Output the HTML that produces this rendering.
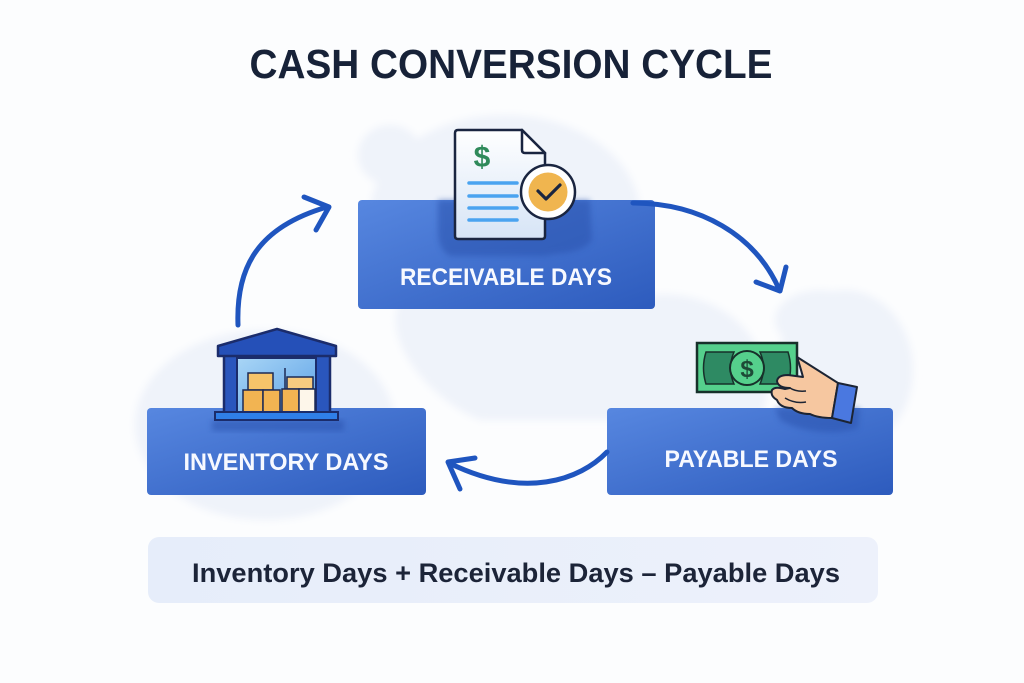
<!DOCTYPE html>
<html><head><meta charset="utf-8"><style>
html,body{margin:0;padding:0;background:#fcfdfe;}
svg{display:block;}
</style></head><body>
<svg width="1024" height="683" viewBox="0 0 1024 683" xmlns="http://www.w3.org/2000/svg">
<defs>
<linearGradient id="bx" x1="0" y1="0" x2="1" y2="1">
<stop offset="0" stop-color="#5787e0"/><stop offset="1" stop-color="#2d5bbd"/>
</linearGradient>
<linearGradient id="fm" x1="0" y1="0" x2="1" y2="0">
<stop offset="0" stop-color="#e6edfa"/><stop offset="1" stop-color="#edf1fb"/>
</linearGradient>
<linearGradient id="doc" x1="0" y1="0" x2="0" y2="1">
<stop offset="0" stop-color="#ffffff"/><stop offset="1" stop-color="#d6e4f6"/>
</linearGradient>
<linearGradient id="win" x1="0" y1="0" x2="1" y2="1">
<stop offset="0" stop-color="#a9d6f6"/><stop offset="1" stop-color="#5a9fe6"/>
</linearGradient>
<filter id="bl" x="-20%" y="-20%" width="140%" height="140%"><feGaussianBlur stdDeviation="4"/></filter>
<filter id="sh" x="-20%" y="-20%" width="140%" height="140%"><feGaussianBlur stdDeviation="3"/></filter>
</defs>

<rect width="1024" height="683" fill="#fcfdfe"/>

<!-- background blobs -->
<g fill="#eff3fa" filter="url(#bl)">
<ellipse cx="505" cy="215" rx="135" ry="100"/>
<ellipse cx="390" cy="155" rx="32" ry="30"/>
<path d="M400,300 C430,260 520,270 560,300 C600,320 640,280 700,300 C760,320 780,380 760,420 L480,420 C430,400 380,340 400,300 Z"/>
<ellipse cx="265" cy="425" rx="130" ry="95"/>
<ellipse cx="845" cy="370" rx="68" ry="80"/>
<ellipse cx="820" cy="320" rx="45" ry="30"/>
</g>

<!-- title -->
<text x="511" y="78" text-anchor="middle" font-family="Liberation Sans, sans-serif" font-weight="bold" font-size="41" fill="#172238" textLength="523" lengthAdjust="spacingAndGlyphs">CASH CONVERSION CYCLE</text>

<!-- boxes -->
<rect x="358" y="200" width="297" height="109" rx="4" fill="url(#bx)"/>
<rect x="147" y="408" width="279" height="87" rx="4" fill="url(#bx)"/>
<rect x="607" y="408" width="286" height="87" rx="4" fill="url(#bx)"/>

<!-- doc shadow -->
<path d="M438,200 L590,200 L592,240 C580,255 560,252 545,256 L450,256 C440,250 438,240 438,230 Z" fill="#2a52ae" opacity="0.55" filter="url(#sh)"/>
<!-- warehouse shadow -->
<rect x="212" y="420" width="132" height="11" fill="#2a52ae" opacity="0.55" filter="url(#sh)"/>
<!-- hand shadow -->
<path d="M775,408 L860,408 L858,428 C835,436 800,432 780,420 Z" fill="#2a52ae" opacity="0.55" filter="url(#sh)"/>

<!-- box labels -->
<text x="506" y="285" text-anchor="middle" font-family="Liberation Sans, sans-serif" font-weight="bold" font-size="24" fill="#f7f9ff" textLength="212" lengthAdjust="spacingAndGlyphs">RECEIVABLE DAYS</text>
<text x="286" y="470" text-anchor="middle" font-family="Liberation Sans, sans-serif" font-weight="bold" font-size="24" fill="#f7f9ff" textLength="205" lengthAdjust="spacingAndGlyphs">INVENTORY DAYS</text>
<text x="751" y="467" text-anchor="middle" font-family="Liberation Sans, sans-serif" font-weight="bold" font-size="24" fill="#f7f9ff" textLength="173" lengthAdjust="spacingAndGlyphs">PAYABLE DAYS</text>

<!-- arrows -->
<g fill="none" stroke="#1f55bf" stroke-width="5" stroke-linecap="round" stroke-linejoin="round">
<path d="M238,325 C236,270 255,228 327,207"/>
<polyline points="304,197 329,207 316,230"/>
<path d="M633,203 C700,203 755,235 779,289"/>
<polyline points="756,282 780,291 786,267"/>
<path d="M607,452 C580,480 525,500 449,463"/>
<polyline points="475,458 448,462 460,489"/>
</g>

<!-- document icon -->
<path d="M458,130 L522,130 L545,153 L545,236 Q545,239 542,239 L458,239 Q455,239 455,236 L455,133 Q455,130 458,130 Z" fill="url(#doc)" stroke="#1a2540" stroke-width="2.5"/>
<path d="M522,130 L522,150 Q522,153 525,153 L545,153 Z" fill="#ffffff" stroke="#1a2540" stroke-width="2.5" stroke-linejoin="round"/>
<text x="482" y="167" text-anchor="middle" font-family="Liberation Sans, sans-serif" font-weight="bold" font-size="30" fill="#2f8a5a">$</text>
<g stroke="#4aa3f0" stroke-width="3.5" stroke-linecap="round">
<line x1="469" y1="183" x2="517" y2="183"/>
<line x1="469" y1="196" x2="517" y2="196"/>
<line x1="469" y1="208" x2="517" y2="208"/>
<line x1="469" y1="220" x2="517" y2="220"/>
</g>
<circle cx="548" cy="192" r="27" fill="#ffffff" stroke="#1a2540" stroke-width="2.5"/>
<circle cx="548" cy="192" r="19.5" fill="#f0b54f"/>
<polyline points="538,191 546,199 560,185" fill="none" stroke="#1a2540" stroke-width="3.2" stroke-linecap="round" stroke-linejoin="round"/>

<!-- warehouse -->
<rect x="224" y="352" width="106" height="62" fill="#2a56bd" stroke="#1b2c6b" stroke-width="2.5"/>
<path d="M218,346 L277,329 L336,346 L336,356 L218,356 Z" fill="#2550b8" stroke="#1b2c6b" stroke-width="2.5" stroke-linejoin="round"/>
<rect x="237" y="358" width="79" height="56" fill="url(#win)" stroke="#1b2c6b" stroke-width="2"/>
<g stroke="#1c2a55" stroke-width="1.5">
<rect x="248" y="373" width="25" height="17" fill="#f6c46a"/>
<rect x="243" y="390" width="20" height="23" fill="#f2b452"/>
<rect x="263" y="390" width="17" height="23" fill="#f2b452"/>
<rect x="287" y="377" width="26" height="12" fill="#f7cb80"/>
<rect x="282" y="389" width="17" height="24" fill="#f2b452"/>
<rect x="299" y="389" width="16" height="24" fill="#fdf6ea"/>
<line x1="285" y1="368" x2="285" y2="389"/>
</g>
<rect x="215" y="412" width="123" height="8" fill="#2f7fe8" stroke="#1b2c6b" stroke-width="2"/>

<!-- money & hand -->
<rect x="697" y="343" width="100" height="49" fill="#55d08c" stroke="#17302a" stroke-width="2.5"/>
<path d="M706,352 L734,352 Q727,368 734,384 L706,384 Q701,368 706,352 Z" fill="#2e8a63" stroke="#17302a" stroke-width="1.5"/>
<path d="M760,352 L788,352 Q793,368 788,384 L760,384 Q767,368 760,352 Z" fill="#2e8a63" stroke="#17302a" stroke-width="1.5"/>
<circle cx="747" cy="368" r="17" fill="#55d08c" stroke="#17302a" stroke-width="2"/>
<text x="747" y="377" text-anchor="middle" font-family="Liberation Sans, sans-serif" font-weight="bold" font-size="24" fill="#1d4a36">$</text>
<path d="M797,357 L838,383 L832,418 Q818,418 810,414 Q798,414 792,408 Q780,408 777,400 Q770,396 772,390 Q775,386 785,389 L790,388 Q778,388 777,381 Q778,375 788,375 L803,377 Q800,366 797,357 Z" fill="#f6c7a0" stroke="#1c2433" stroke-width="2" stroke-linejoin="round"/>
<path d="M790,388 Q796,392 806,391 M785,398 Q795,404 806,402" fill="none" stroke="#1c2433" stroke-width="1.5"/>
<polygon points="838,383 857,387 851,423 832,418" fill="#4a78e0" stroke="#1c2433" stroke-width="2" stroke-linejoin="round"/>

<!-- formula -->
<rect x="148" y="537" width="730" height="66" rx="11" fill="url(#fm)"/>
<text x="516" y="582" text-anchor="middle" font-family="Liberation Sans, sans-serif" font-weight="bold" font-size="27" fill="#1c2438" textLength="648" lengthAdjust="spacingAndGlyphs">Inventory Days + Receivable Days – Payable Days</text>
</svg>
</body></html>
